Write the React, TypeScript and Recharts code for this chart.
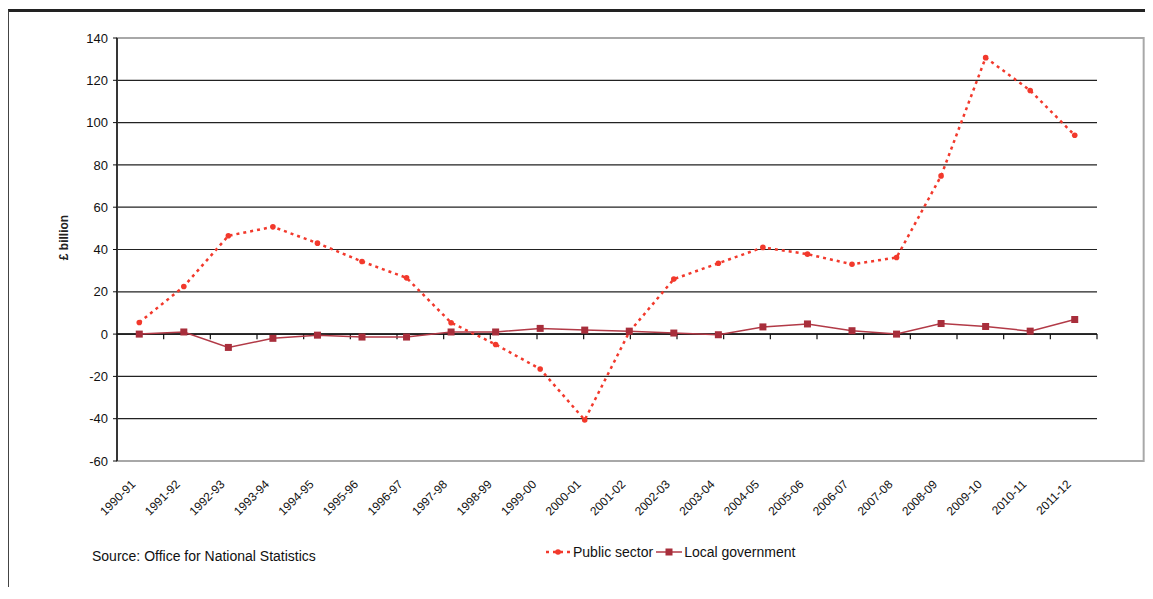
import { CartesianGrid, Line, LineChart, ReferenceArea, ReferenceLine, XAxis, YAxis } from "recharts";

const periods = [
  "1990-91", "1991-92", "1992-93", "1993-94", "1994-95", "1995-96", "1996-97", "1997-98",
  "1998-99", "1999-00", "2000-01", "2001-02", "2002-03", "2003-04", "2004-05", "2005-06",
  "2006-07", "2007-08", "2008-09", "2009-10", "2010-11", "2011-12",
];
const publicSector = [
  5.5, 22.5, 46.5, 50.7, 43, 34.3, 26.6, 5.4, -4.9, -16.5, -40.6,
  1, 26, 33.5, 41, 37.8, 33, 36.2, 74.8, 130.7, 115.2, 94,
];
const localGovernment = [
  0, 1, -6.3, -2, -0.5, -1.4, -1.4, 1, 1, 2.7, 1.9,
  1.4, 0.5, -0.3, 3.4, 4.8, 1.6, 0, 5, 3.6, 1.4, 6.9,
];
const yTicks = [-60, -40, -20, 0, 20, 40, 60, 80, 100, 120, 140];

const data = periods.map((period, i) => ({
  period,
  publicSector: publicSector[i],
  localGovernment: localGovernment[i],
}));

// category boundaries, used for the tick marks hanging off the zero line
const edges = periods.map((_, i) => i + 1);

const font = "'Liberation Sans', Arial, sans-serif";
const red = "#f2392c";
const maroon = "#b23a47";
const maroonMark = "#a82e3b";

function PeriodTick({ x, y, payload }: any) {
  const ax = x - 3;
  const ay = y + 24;
  return (
    <text x={ax} y={ay} textAnchor="end" fontSize={12} fill="#111" fontFamily={font}
      transform={`rotate(-45, ${ax}, ${ay})`}>
      {payload.value}
    </text>
  );
}

function SquareDot({ cx, cy }: any) {
  if (cx == null || cy == null) return null;
  return <rect x={cx - 3.5} y={cy - 3.5} width={7} height={7} fill={maroonMark} />;
}

export default function App() {
  return (
    <div style={{
      position: "relative", width: 1150, height: 575, marginTop: 1,
      borderTop: "3px solid #222", borderLeft: "1px solid #444", fontFamily: font,
    }}>
      <LineChart width={1144} height={575} data={data} margin={{ top: 26, right: 56, bottom: 0, left: 0 }}>
        <CartesianGrid vertical={false} stroke="#222" strokeWidth={1.2} />
        <XAxis dataKey="period" scale="band" interval={0} tickLine={false} axisLine={false}
          tickSize={0} tickMargin={0} height={126} tick={<PeriodTick />} />
        <XAxis xAxisId="edge" type="number" domain={[0, 22]} allowDataOverflow hide />
        <ReferenceArea xAxisId="edge" x1={0} x2={22} y1={-60} y2={140} fill="none"
          stroke="#a8a8a8" strokeWidth={2} ifOverflow="visible" />
        <YAxis domain={[-60, 140]} ticks={yTicks} width={108} tickSize={4} tickMargin={5}
          axisLine={{ stroke: "#111", strokeWidth: 1.5 }} tickLine={{ stroke: "#111" }}
          tick={{ fill: "#111", fontSize: 13, fontFamily: font }}
          label={{
            content: ({ viewBox }: any) => {
              const lx = viewBox.x + 55;
              const ly = viewBox.y + viewBox.height / 2 - 12;
              return (
                <text x={lx} y={ly} textAnchor="middle" dominantBaseline="central" fontSize={12}
                  fontWeight="bold" fill="#222" fontFamily={font} transform={`rotate(-90, ${lx}, ${ly})`}>
                  £ billion
                </text>
              );
            },
          }} />
        <ReferenceLine y={0} stroke="#111" strokeWidth={1.5} />
        {edges.map((e) => (
          <ReferenceLine key={e} xAxisId="edge" segment={[{ x: e, y: 0 }, { x: e, y: -2.4 }]}
            stroke="#111" strokeWidth={1.2} />
        ))}
        <Line type="linear" dataKey="publicSector" stroke={red} strokeWidth={2.5} strokeDasharray="3 4"
          dot={{ r: 2.8, fill: red, stroke: "none" }} isAnimationActive={false} />
        <Line type="linear" dataKey="localGovernment" stroke={maroon} strokeWidth={1.5}
          dot={<SquareDot />} isAnimationActive={false} />
      </LineChart>
      <div style={{ position: "absolute", left: 83, top: 536, fontSize: 14, color: "#111", whiteSpace: "nowrap" }}>
        Source: Office for National Statistics
      </div>
      <div style={{
        position: "absolute", left: 536, top: 532, display: "flex", alignItems: "center",
        fontSize: 14, color: "#111", whiteSpace: "nowrap",
      }}>
        <svg width={26} height={10}>
          <line x1={1} y1={5} x2={25} y2={5} stroke={red} strokeWidth={2.5} strokeDasharray="3 4" />
          <circle cx={13} cy={5} r={2.8} fill={red} />
        </svg>
        <span style={{ marginLeft: 2 }}>Public sector</span>
        <svg width={28} height={10} style={{ marginLeft: 2 }}>
          <line x1={1} y1={5} x2={27} y2={5} stroke={maroon} strokeWidth={1.5} />
          <rect x={10.5} y={1.5} width={7} height={7} fill={maroonMark} />
        </svg>
        <span style={{ marginLeft: 1 }}>Local government</span>
      </div>
    </div>
  );
}
